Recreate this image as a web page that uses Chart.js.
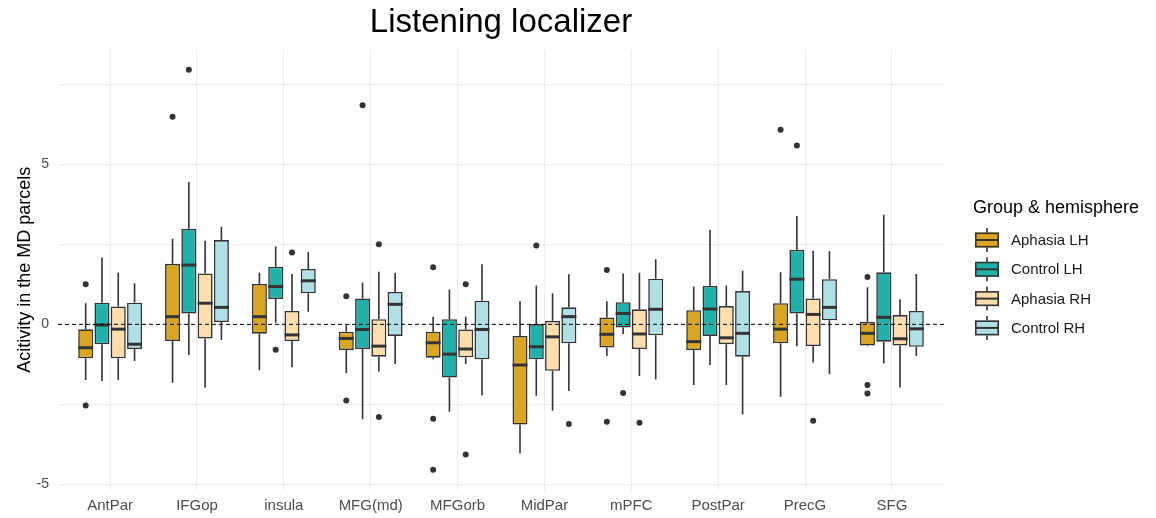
<!DOCTYPE html>
<html>
<head>
<meta charset="utf-8">
<script src="https://cdn.jsdelivr.net/npm/chart.js@4.4.1/dist/chart.umd.min.js"></script>
<style>
  html, body { margin: 0; padding: 0; background: #fff; }
  #wrap { width: 1156px; height: 518px; position: relative; }
</style>
</head>
<body>
<div id="wrap"><canvas id="chart"></canvas></div>
<script>
// Brain parcels along the x axis
const categories = ['AntPar', 'IFGop', 'insula', 'MFG(md)', 'MFGorb', 'MidPar', 'mPFC', 'PostPar', 'PrecG', 'SFG'];
const seriesNames = ['Aphasia LH', 'Control LH', 'Aphasia RH', 'Control RH'];
const seriesColors = ['#DAA520', '#20B2AA', '#FFDEAD', '#B0E0E6'];
const yTicks = [-5, -2.5, 0, 2.5, 5, 7.5];

// Aphasia LH: whisker ends, quartiles, medians, outliers
const aphasiaLH_lower = [-1.74, -1.82, -1.43, -1.53, -1.09, -4.03, -0.99, -1.89, -2.26, -0.68];
const aphasiaLH_q1    = [-1.06, -0.52, -0.29, -0.80, -1.04, -3.125, -0.72, -0.80, -0.59, -0.66];
const aphasiaLH_med   = [-0.73, 0.24, 0.24, -0.44, -0.575, -1.27, -0.31, -0.54, -0.15, -0.28];
const aphasiaLH_q3    = [-0.156, 1.89, 1.26, -0.23, -0.23, -0.36, 0.21, 0.44, 0.66, 0.08];
const aphasiaLH_upper = [0.66, 2.67, 1.61, -0.03, 0.24, 0.72, 0.72, 1.18, 1.625, 1.16];
const aphasiaLH_out   = [[1.25, -2.53], [6.48], [], [0.875, -2.375], [1.78, -2.95, -4.54], [], [1.70, -3.04], [], [6.07], [1.48, -1.89, -2.16]];

// Control LH
const controlLH_lower = [-1.77, -0.96, 0.05, -2.96, -2.73, -2.23, -0.30, -1.27, -0.68, -1.22];
const controlLH_q1    = [-0.625, 0.34, 0.79, -0.77, -1.66, -1.09, -0.10, -0.36, 0.34, -0.54];
const controlLH_med   = [-0.02, 1.85, 1.18, -0.16, -0.93, -0.70, 0.34, 0.48, 1.41, 0.22];
const controlLH_q3    = [0.675, 2.98, 1.80, 0.81, 0.16, 0.01, 0.69, 1.20, 2.32, 1.625];
const controlLH_upper = [2.09, 4.44, 2.43, 1.31, 1.09, 1.21, 1.59, 2.95, 3.38, 3.42];
const controlLH_out   = [[], [7.95], [-0.79], [6.84], [], [2.46], [-2.14], [], [5.58], []];

// Aphasia RH
const aphasiaRH_lower = [-1.74, -1.98, -1.34, -1.48, -1.24, -2.70, -1.61, -1.89, -1.19, -1.97];
const aphasiaRH_q1    = [-1.06, -0.44, -0.52, -1.01, -1.03, -1.45, -0.77, -0.62, -0.68, -0.66];
const aphasiaRH_med   = [-0.15, 0.66, -0.33, -0.68, -0.77, -0.39, -0.30, -0.42, 0.31, -0.45];
const aphasiaRH_q3    = [0.56, 1.59, 0.42, 0.16, -0.16, 0.11, 0.47, 0.57, 0.81, 0.29];
const aphasiaRH_upper = [1.61, 2.61, 1.57, 1.64, 0.24, 0.97, 1.61, 1.21, 2.30, 0.78];
const aphasiaRH_out   = [[], [], [2.24], [2.5, -2.89], [1.25, -4.06], [], [-3.07], [], [-3.01], []];

// Control RH
const controlRH_lower = [-1.14, -0.49, 0.39, -1.24, -2.21, -2.08, -1.72, -2.81, -1.55, -0.99];
const controlRH_q1    = [-0.77, 0.07, 0.97, -0.36, -1.09, -0.59, -0.34, -1.01, 0.125, -0.70];
const controlRH_med   = [-0.62, 0.53, 1.36, 0.625, -0.16, 0.24, 0.47, -0.28, 0.53, -0.14];
const controlRH_q3    = [0.675, 2.63, 1.73, 1.01, 0.74, 0.53, 1.425, 1.04, 1.41, 0.42];
const controlRH_upper = [1.28, 3.05, 2.26, 1.61, 1.875, 1.56, 2.03, 1.67, 2.28, 1.57];
const controlRH_out   = [[], [], [], [], [], [-3.11], [], [], [], []];

const seriesStats = [
  { lower: aphasiaLH_lower, q1: aphasiaLH_q1, med: aphasiaLH_med, q3: aphasiaLH_q3, upper: aphasiaLH_upper, out: aphasiaLH_out },
  { lower: controlLH_lower, q1: controlLH_q1, med: controlLH_med, q3: controlLH_q3, upper: controlLH_upper, out: controlLH_out },
  { lower: aphasiaRH_lower, q1: aphasiaRH_q1, med: aphasiaRH_med, q3: aphasiaRH_q3, upper: aphasiaRH_upper, out: aphasiaRH_out },
  { lower: controlRH_lower, q1: controlRH_q1, med: controlRH_med, q3: controlRH_q3, upper: controlRH_upper, out: controlRH_out }
];

const INK = '#333333';
const FONT = "'Liberation Sans', Arial, Helvetica, sans-serif";

// Boxes are floating bars from Q1 to Q3
const datasets = seriesNames.map((name, s) => ({
  label: name,
  data: categories.map((c, i) => ({ x: i + 1, y: [seriesStats[s].q1[i], seriesStats[s].q3[i]] })),
  backgroundColor: seriesColors[s],
  borderColor: INK,
  borderWidth: 1.6,
  borderSkipped: false,
  categoryPercentage: 0.75,
  barPercentage: 0.92
}));

// Whiskers and outliers behind the boxes, medians and zero line on top, legend at the side
const boxplotParts = {
  id: 'boxplotParts',
  beforeDatasetsDraw(chart) {
    const ctx = chart.ctx;
    const y = chart.scales.y;
    ctx.save();
    seriesStats.forEach((st, s) => {
      const meta = chart.getDatasetMeta(s);
      meta.data.forEach((bar, i) => {
        const x = bar.x;
        ctx.strokeStyle = INK;
        ctx.lineWidth = 1.6;
        ctx.beginPath();
        ctx.moveTo(x, y.getPixelForValue(st.upper[i]));
        ctx.lineTo(x, y.getPixelForValue(st.q3[i]));
        ctx.moveTo(x, y.getPixelForValue(st.q1[i]));
        ctx.lineTo(x, y.getPixelForValue(st.lower[i]));
        ctx.stroke();
        ctx.fillStyle = INK;
        st.out[i].forEach(v => {
          ctx.beginPath();
          ctx.arc(x, y.getPixelForValue(v), 3, 0, Math.PI * 2);
          ctx.fill();
        });
      });
    });
    ctx.restore();
  },
  afterDatasetsDraw(chart) {
    const ctx = chart.ctx;
    const y = chart.scales.y;
    const area = chart.chartArea;
    ctx.save();
    seriesStats.forEach((st, s) => {
      const meta = chart.getDatasetMeta(s);
      meta.data.forEach((bar, i) => {
        const half = bar.width / 2;
        const py = y.getPixelForValue(st.med[i]);
        ctx.strokeStyle = INK;
        ctx.lineWidth = 3;
        ctx.beginPath();
        ctx.moveTo(bar.x - half, py);
        ctx.lineTo(bar.x + half, py);
        ctx.stroke();
      });
    });
    // dashed reference line at zero
    const z = y.getPixelForValue(0);
    ctx.strokeStyle = '#000';
    ctx.lineWidth = 1;
    ctx.setLineDash([4, 3]);
    ctx.beginPath();
    ctx.moveTo(area.left, z);
    ctx.lineTo(area.right, z);
    ctx.stroke();
    ctx.restore();
  },
  afterDraw(chart) {
    const ctx = chart.ctx;
    const area = chart.chartArea;
    const lx = area.right + 29;
    ctx.save();
    ctx.fillStyle = '#000';
    ctx.font = '18px ' + FONT;
    ctx.textBaseline = 'middle';
    ctx.textAlign = 'left';
    ctx.fillText('Group & hemisphere', lx, 208);
    seriesNames.forEach((name, s) => {
      const yc = 240 + s * 29.3;
      const kx = lx + 2, kw = 24;
      ctx.strokeStyle = INK;
      ctx.lineWidth = 1.6;
      ctx.beginPath();
      ctx.moveTo(kx + kw / 2, yc - 12);
      ctx.lineTo(kx + kw / 2, yc + 12);
      ctx.stroke();
      ctx.fillStyle = seriesColors[s];
      ctx.fillRect(kx, yc - 7.5, kw, 15);
      ctx.strokeRect(kx + 0.8, yc - 6.7, kw - 1.6, 13.4);
      ctx.lineWidth = 2;
      ctx.beginPath();
      ctx.moveTo(kx, yc);
      ctx.lineTo(kx + kw, yc);
      ctx.stroke();
      ctx.fillStyle = '#1a1a1a';
      ctx.font = '15px ' + FONT;
      ctx.fillText(name, lx + 38, yc + 1);
    });
    ctx.restore();
  }
};

new Chart(document.getElementById('chart'), {
  type: 'bar',
  data: { datasets },
  plugins: [boxplotParts],
  options: {
    responsive: true,
    maintainAspectRatio: false,
    animation: false,
    layout: { padding: { right: 212, left: 0, top: 0, bottom: 0 } },
    plugins: {
      legend: { display: false },
      tooltip: { enabled: false },
      title: {
        display: true,
        text: 'Listening localizer',
        fullSize: false,
        color: '#000',
        font: { family: FONT, size: 33, weight: 'normal' },
        padding: { top: 3, bottom: 7 }
      }
    },
    scales: {
      x: {
        type: 'linear',
        min: 0.4,
        max: 10.6,
        offset: false,
        afterBuildTicks: sc => { sc.ticks = categories.map((c, i) => ({ value: i + 1 })); },
        afterFit: sc => { sc.height = 28; },
        ticks: {
          autoSkip: false,
          maxRotation: 0,
          padding: 7,
          color: '#4d4d4d',
          font: { family: FONT, size: 15 },
          callback: v => categories[v - 1]
        },
        grid: { color: '#ebebeb', lineWidth: 1, drawTicks: false, offset: false },
        border: { display: false }
      },
      y: {
        type: 'linear',
        min: -5.17,
        max: 8.575,
        afterBuildTicks: sc => { sc.ticks = yTicks.map(v => ({ value: v })); },
        afterFit: sc => { sc.width = 58; },
        ticks: {
          padding: 9,
          color: '#4d4d4d',
          font: { family: FONT, size: 14 },
          callback: v => (v % 5 === 0 ? String(v) : '')
        },
        grid: { color: '#ebebeb', lineWidth: 1, drawTicks: false },
        border: { display: false },
        title: {
          display: true,
          text: 'Acitivity in the MD parcels',
          color: '#000',
          font: { family: FONT, size: 18 },
          padding: { top: 14, bottom: 0 }
        }
      }
    }
  }
});
</script>
</body>
</html>
